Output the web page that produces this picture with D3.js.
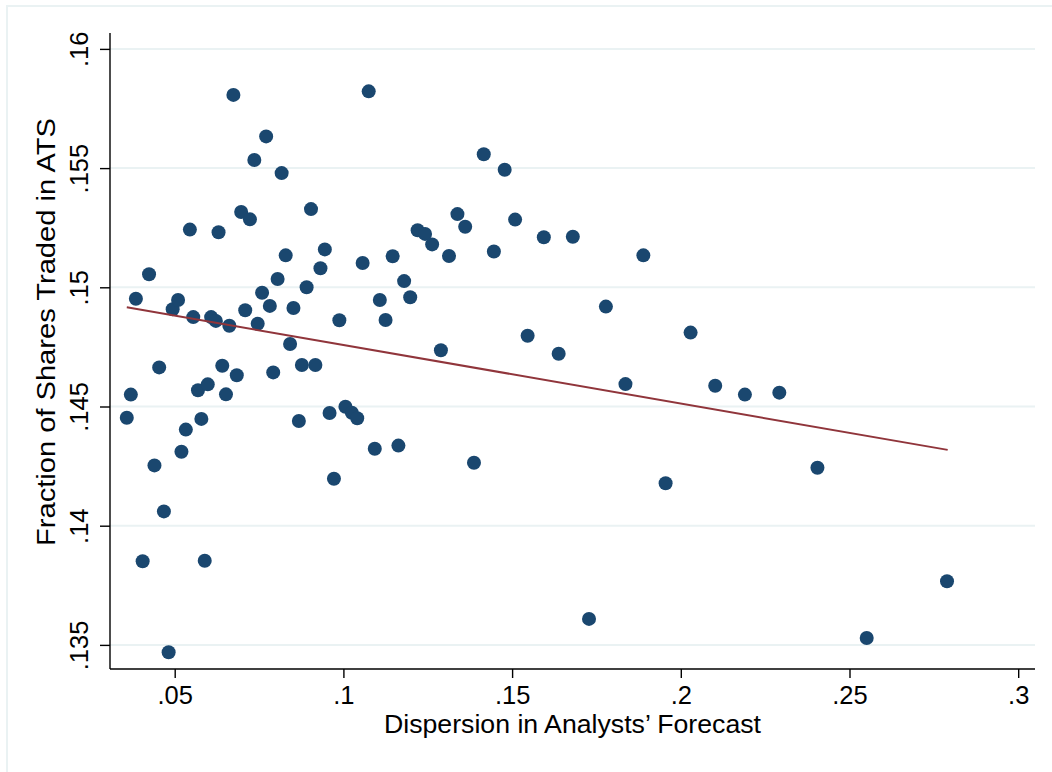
<!DOCTYPE html>
<html>
<head>
<meta charset="utf-8">
<script src="https://cdn.jsdelivr.net/npm/d3@7"></script>
<style>
  html, body { margin: 0; padding: 0; background: #fff; }
  svg { display: block; font-family: "Liberation Sans", Arial, Helvetica, sans-serif; }
</style>
</head>
<body>
<svg id="chart" width="1052" height="772"></svg>
<script>
// ---- data ----
const dispersion = [
  0.0358, 0.0370, 0.0385, 0.0405, 0.0424, 0.0440, 0.0454, 0.0468, 0.0482, 0.0494,
  0.0510, 0.0520, 0.0533, 0.0545, 0.0555, 0.0569, 0.0579, 0.0589, 0.0598, 0.0608,
  0.0622, 0.0630, 0.0641, 0.0652, 0.0662, 0.0674, 0.0684, 0.0697, 0.0709, 0.0723,
  0.0736, 0.0746, 0.0759, 0.0771, 0.0782, 0.0792, 0.0805, 0.0817, 0.0829, 0.0842,
  0.0852, 0.0868, 0.0877, 0.0891, 0.0904, 0.0917, 0.0932, 0.0945, 0.0959, 0.0972,
  0.0988, 0.1006, 0.1025, 0.1041, 0.1057, 0.1075, 0.1093, 0.1108, 0.1125, 0.1146,
  0.1163, 0.1180, 0.1198, 0.1220, 0.1242, 0.1263, 0.1289, 0.1313, 0.1338, 0.1361,
  0.1387, 0.1416, 0.1446, 0.1478, 0.1509, 0.1546, 0.1594, 0.1638, 0.1680, 0.1728,
  0.1778, 0.1836, 0.1889, 0.1955, 0.2029, 0.2102, 0.2190, 0.2292, 0.2405, 0.2551,
  0.2789
];
const fractionATS = [
  0.14453, 0.14550, 0.14952, 0.13851, 0.15055, 0.14253, 0.14664, 0.14060, 0.13469, 0.14908,
  0.14947, 0.14310, 0.14403, 0.15242, 0.14875, 0.14568, 0.14448, 0.13853, 0.14593, 0.14875,
  0.14859, 0.15231, 0.14671, 0.14551, 0.14839, 0.15807, 0.14631, 0.15316, 0.14904, 0.15285,
  0.15534, 0.14847, 0.14977, 0.15633, 0.14922, 0.14643, 0.15035, 0.15479, 0.15134, 0.14762,
  0.14913, 0.14439, 0.14674, 0.15000, 0.15328, 0.14674, 0.15080, 0.15159, 0.14473, 0.14197,
  0.14862, 0.14499, 0.14474, 0.14451, 0.15102, 0.15822, 0.14323, 0.14947, 0.14863, 0.15130,
  0.14336, 0.15026, 0.14958, 0.15239, 0.15224, 0.15180, 0.14736, 0.15131, 0.15307, 0.15254,
  0.14264, 0.15558, 0.15150, 0.15493, 0.15284, 0.14797, 0.15210, 0.14721, 0.15212, 0.13609,
  0.14919, 0.14594, 0.15134, 0.14178, 0.14810, 0.14587, 0.14550, 0.14558, 0.14243, 0.13529,
  0.13767
];
// fitted line endpoints (linear fit)
const fitX = [0.0358, 0.2791];
const fitY = [0.14916, 0.14318];

const xTicks = [0.05, 0.1, 0.15, 0.2, 0.25, 0.3];
const xTickLabels = [".05", ".1", ".15", ".2", ".25", ".3"];
const yTicks = [0.135, 0.14, 0.145, 0.15, 0.155, 0.16];
const yTickLabels = [".135", ".14", ".145", ".15", ".155", ".16"];

const xTitle = "Dispersion in Analysts\u2019 Forecast";
const yTitle = "Fraction of Shares Traded in ATS";

// ---- layout ----
const svg = d3.select("#chart");
const plot = { left: 110, right: 1035, top: 33, bottom: 669 };

const x = d3.scaleLinear().domain([0.030824, 0.304980]).range([plot.left, plot.right]);
const y = d3.scaleLinear().domain([0.133989, 0.160667]).range([plot.bottom, plot.top]);

const navy = "#1a476f";
const maroon = "#90353b";
const gridCol = "#eaf2f3";

// outer graph region border
svg.append("rect")
  .attr("x", 7).attr("y", 6).attr("width", 1070).attr("height", 790)
  .attr("fill", "none").attr("stroke", gridCol).attr("stroke-width", 2);

// grid
svg.append("g").selectAll("line").data(yTicks).join("line")
  .attr("x1", plot.left).attr("x2", plot.right)
  .attr("y1", d => y(d)).attr("y2", d => y(d))
  .attr("stroke", gridCol).attr("stroke-width", 2);

// y axis
const yAxis = d3.axisLeft(y).tickValues(yTicks)
  .tickFormat((d, i) => yTickLabels[i]).tickSize(10).tickPadding(0);
const gy = svg.append("g").attr("transform", `translate(${plot.left},0)`).call(yAxis);
gy.select(".domain").attr("d", `M0,${plot.top}V${plot.bottom}`).attr("stroke", "#000").attr("stroke-width", 1.4);
gy.selectAll(".tick line").attr("stroke", "#000").attr("stroke-width", 1.4);
gy.selectAll(".tick text")
  .attr("x", null).attr("dy", null)
  .attr("transform", "translate(-22,0) rotate(-90)")
  .attr("text-anchor", "middle")
  .attr("fill", "#000")
  .style("font-size", "25.5px");

// x axis
const xAxis = d3.axisBottom(x).tickValues(xTicks)
  .tickFormat((d, i) => xTickLabels[i]).tickSize(9).tickPadding(0);
const gx = svg.append("g").attr("transform", `translate(0,${plot.bottom})`).call(xAxis);
gx.select(".domain").attr("d", `M${plot.left},0H${plot.right}`).attr("stroke", "#000").attr("stroke-width", 1.4);
gx.selectAll(".tick line").attr("stroke", "#000").attr("stroke-width", 1.4);
gx.selectAll(".tick text")
  .attr("y", 35).attr("dy", null)
  .attr("fill", "#000")
  .style("font-size", "25.5px");

// points
const pts = dispersion.map((d, i) => ({ x: d, y: fractionATS[i] }));
svg.append("g").selectAll("circle").data(pts).join("circle")
  .attr("cx", d => x(d.x)).attr("cy", d => y(d.y))
  .attr("r", 7).attr("fill", navy);

// fit line
const fitData = fitX.map((d, i) => ({ x: d, y: fitY[i] }));
svg.append("path").datum(fitData)
  .attr("d", d3.line().x(d => x(d.x)).y(d => y(d.y)))
  .attr("fill", "none").attr("stroke", maroon).attr("stroke-width", 2);

// axis titles
svg.append("text")
  .attr("x", (plot.left + plot.right) / 2).attr("y", 733)
  .attr("text-anchor", "middle").attr("fill", "#000")
  .attr("textLength", 377).attr("lengthAdjust", "spacingAndGlyphs")
  .style("font-size", "25px").text(xTitle);

svg.append("text")
  .attr("transform", "translate(55,332) rotate(-90)")
  .attr("text-anchor", "middle").attr("fill", "#000")
  .attr("textLength", 428).attr("lengthAdjust", "spacingAndGlyphs")
  .style("font-size", "25px").text(yTitle);
</script>
</body>
</html>
